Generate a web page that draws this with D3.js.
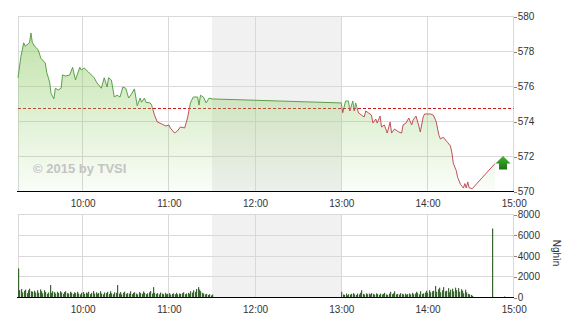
<html>
<head>
<meta charset="utf-8">
<script src="https://d3js.org/d3.v7.min.js"></script>
<style>
body { margin: 0; background: #fff; }
svg { display: block; font-family: 'Liberation Sans', Arial, sans-serif; }
.grid line { stroke: #d9d9d9; shape-rendering: crispEdges; }
.axis text { font-size: 10px; fill: #333; }
.axis line { stroke: #888; shape-rendering: crispEdges; }
</style>
</head>
<body>
<svg width="570" height="320"></svg>
<script>
// price (index) by time
var priceTimes = ["09:15","09:17","09:19","09:20","09:23","09:24","09:25","09:27","09:29","09:31",
  "09:34","09:35","09:37","09:38","09:40","09:41","09:43","09:45","09:46","09:48",
  "09:51","09:53","09:55","09:58","09:59","10:01","10:04","10:08","10:10","10:13",
  "10:15","10:17","10:18","10:20","10:22","10:24","10:26","10:28","10:30","10:32",
  "10:34","10:36","10:38","10:40","10:41","10:43","10:44","10:47","10:48","10:50",
  "10:52","10:55","10:58","11:00","11:01","11:04","11:06","11:08","11:11","11:13",
  "11:15","11:17","11:20","11:21","11:22","11:24","11:26","11:28","11:30",
  "13:00","13:01","13:03","13:05","13:06","13:08","13:09","13:10","13:12","13:14",
  "13:16","13:17","13:19","13:21","13:22","13:24","13:25","13:27","13:28","13:30",
  "13:32","13:34","13:35","13:37","13:40","13:42","13:43","13:45","13:47","13:49",
  "13:50","13:52","13:54","13:55","13:57","13:58","14:02","14:04","14:05","14:06",
  "14:08","14:09","14:11","14:12","14:14","14:16","14:17","14:18","14:20","14:21",
  "14:23","14:24","14:25","14:26","14:27","14:28","14:29","14:30","14:31","14:47"];
var priceValues = [576.5,577.7,578.5,578.3,578.5,579.06,578.5,578.26,578.1,577.6,
  577.34,576.8,576.26,575.6,575.3,575.9,575.8,575.9,576.66,576.6,
  576.66,577.1,576.37,577.1,576.94,577.06,576.83,576.5,576.2,575.9,
  576.5,575.97,576.5,576.37,575.4,575.5,575.4,575.97,575.9,575.34,
  575.57,575.86,574.9,575.34,575.1,575.34,575.1,575.06,574.94,574.37,
  573.97,573.86,573.74,573.8,573.63,573.34,573.46,573.69,573.63,574.2,
  575.06,575.4,575.4,574.94,575.5,575.4,575.06,575.34,575.29,
  575.06,574.5,575.17,575.17,574.6,575.17,574.6,575.06,574.49,574.37,
  574.26,574.6,574.49,574.37,573.91,574.14,573.91,574.31,573.69,573.8,
  573.34,573.97,573.34,573.57,573.4,573.34,573.8,573.91,574.2,573.8,
  574.09,574.31,573.74,573.4,574.26,574.43,574.43,574.37,574.2,574.0,
  573.2,573.0,573.1,573.0,572.8,572.6,572.2,571.6,571.2,570.8,
  570.4,570.3,570.2,570.45,570.2,570.55,570.2,570.2,570.15,571.6];
var refPrice = 574.8;

// volume per minute (thousand shares)
var volMorningStart = "09:15";
var volMorning = [2800,700,820,500,650,760,420,700,850,600,
  560,650,480,700,450,780,600,400,700,520,
  360,480,1200,450,600,520,380,550,430,600,
  480,350,520,600,420,380,560,450,330,500,
  420,550,380,300,460,520,350,480,400,560,
  320,450,620,380,500,350,440,600,380,300,
  480,420,550,350,600,400,320,500,450,1200,
  380,520,300,450,560,350,420,380,600,320,
  450,500,380,300,520,420,360,580,450,320,
  400,500,620,380,1000,450,350,420,300,480,
  380,320,450,300,360,420,280,350,400,320,
  450,300,380,350,420,500,320,380,450,350,
  600,480,700,550,820,1000,760,600,450,380,
  300,350,250,320,200,280];
var volAfternoonStart = "13:00";
var volAfternoon = [550,300,250,380,200,320,280,350,420,300,
  250,380,300,450,700,350,280,400,320,380,
  300,420,350,280,400,330,260,380,300,350,
  450,300,250,380,550,320,400,600,300,350,
  280,420,350,300,380,260,330,400,300,450,
  320,380,550,420,300,600,350,400,480,650,
  450,700,500,600,650,1100,550,800,950,500,
  700,1000,600,650,900,500,750,850,600,950,
  700,900,550,800,650,400,750,500,350,300,
  250,150];
var atcTimes = ["14:45","14:53"];
var atcVolumes = [6650,100];

var hourTicks = ["10:00","11:00","12:00","13:00","14:00","15:00"];
var priceTicks = [570,572,574,576,578,580];
var volTicks = [0,2000,4000,6000,8000];
var lunch = ["11:30","13:00"];

var parse = d3.timeParse("%H:%M");
var svg = d3.select("svg");

var x = d3.scaleTime().domain([parse("09:15"), parse("15:00")]).range([18, 513.7]);
var y = d3.scaleLinear().domain([570, 580]).range([191.5, 16.5]);
var yv = d3.scaleLinear().domain([0, 8000]).range([297.5, 214.5]);

var price = priceTimes.map(function(t, i) { return { t: parse(t), v: priceValues[i] }; });

var vols = [];
volMorning.forEach(function(v, i) { vols.push({ t: d3.timeMinute.offset(parse(volMorningStart), i), v: v }); });
volAfternoon.forEach(function(v, i) { vols.push({ t: d3.timeMinute.offset(parse(volAfternoonStart), i), v: v }); });
atcTimes.forEach(function(t, i) { vols.push({ t: parse(t), v: atcVolumes[i] }); });

var defs = svg.append("defs");
var grad = defs.append("linearGradient").attr("id", "fillg")
  .attr("gradientUnits", "userSpaceOnUse").attr("x1", 0).attr("y1", y(580)).attr("x2", 0).attr("y2", y(570));
grad.append("stop").attr("offset", 0).attr("stop-color", "#8fcc66").attr("stop-opacity", 0.6);
grad.append("stop").attr("offset", 1).attr("stop-color", "#8fcc66").attr("stop-opacity", 0.04);

var arrowG = defs.append("linearGradient").attr("id", "arrowg").attr("x1", 0).attr("y1", 0).attr("x2", 0).attr("y2", 1);
arrowG.append("stop").attr("offset", 0).attr("stop-color", "#44b42c");
arrowG.append("stop").attr("offset", 1).attr("stop-color", "#1c7410");

defs.append("clipPath").attr("id", "above").append("rect")
  .attr("x", 0).attr("y", 0).attr("width", 570).attr("height", y(refPrice));
defs.append("clipPath").attr("id", "below").append("rect")
  .attr("x", 0).attr("y", y(refPrice)).attr("width", 570).attr("height", 320);

// lunch break shade
[[y(580), y(570)], [yv(8000), yv(0)]].forEach(function(r) {
  svg.append("rect").attr("x", x(parse(lunch[0]))).attr("y", r[0])
    .attr("width", x(parse(lunch[1])) - x(parse(lunch[0]))).attr("height", r[1] - r[0])
    .attr("fill", "#f1f1f1");
});

// grids
function grid(yScale, ticks, top, bottom) {
  var g = svg.append("g").attr("class", "grid");
  g.selectAll("line.h").data(ticks).enter().append("line").attr("class", "h")
    .attr("x1", x.range()[0]).attr("x2", x.range()[1])
    .attr("y1", function(d) { return yScale(d); }).attr("y2", function(d) { return yScale(d); });
  g.selectAll("line.v").data(["09:15"].concat(hourTicks)).enter().append("line").attr("class", "v")
    .attr("x1", function(d) { return x(parse(d)); }).attr("x2", function(d) { return x(parse(d)); })
    .attr("y1", top).attr("y2", bottom);
}
grid(y, priceTicks, y(580), y(570));
grid(yv, volTicks, yv(8000), yv(0));

// reference line
svg.append("line").attr("x1", x.range()[0]).attr("x2", x.range()[1])
  .attr("y1", Math.round(y(refPrice)) + 0.5).attr("y2", Math.round(y(refPrice)) + 0.5)
  .attr("stroke", "#c41a1a").attr("stroke-dasharray", "3,2").attr("stroke-width", 1);

// area + line
var area = d3.area().x(function(d) { return x(d.t); }).y0(y(570)).y1(function(d) { return y(d.v); });
var line = d3.line().x(function(d) { return x(d.t); }).y(function(d) { return y(d.v); });

svg.append("path").datum(price).attr("d", area).attr("fill", "url(#fillg)");

svg.append("text").attr("x", 33).attr("y", 173).text("\u00a9 2015 by TVSI")
  .attr("font-size", "13px").attr("font-weight", "bold").attr("fill", "#c4c4c4");

svg.append("path").datum(price).attr("d", line).attr("fill", "none")
  .attr("stroke", "#5c9e4c").attr("stroke-width", 1).attr("clip-path", "url(#above)");
svg.append("path").datum(price).attr("d", line).attr("fill", "none")
  .attr("stroke", "#c0505c").attr("stroke-width", 1).attr("clip-path", "url(#below)");

// arrow
var last = price[price.length - 1];
var ax = x(last.t) + 8, ay = y(last.v);
svg.append("path")
  .attr("d", "M" + (ax - 7.5) + "," + (ay) + "L" + ax + "," + (ay - 7.5) + "L" + (ax + 7.5) + "," + (ay) +
    "L" + (ax + 4) + "," + (ay) + "L" + (ax + 4) + "," + (ay + 6) + "L" + (ax - 4) + "," + (ay + 6) +
    "L" + (ax - 4) + "," + (ay) + "Z")
  .attr("fill", "url(#arrowg)");

// volume bars
svg.append("g").selectAll("rect").data(vols).enter().append("rect")
  .attr("x", function(d) { return Math.round(x(d.t)); })
  .attr("y", function(d) { return yv(d.v); })
  .attr("width", 1.2)
  .attr("height", function(d) { return yv(0) - yv(d.v); })
  .attr("fill", "#3a6431");

// axis base lines
[y(570), yv(0)].forEach(function(b) {
  svg.append("line").attr("x1", 17).attr("x2", x.range()[1]).attr("y1", b).attr("y2", b)
    .attr("stroke", "#000").attr("shape-rendering", "crispEdges");
});

// axes
var xAxis = d3.axisBottom(x).tickValues(hourTicks.map(parse)).tickFormat(d3.timeFormat("%H:%M")).tickSize(0).tickPadding(8);
svg.append("g").attr("class", "axis").attr("transform", "translate(0," + y(570) + ")").call(xAxis).call(function(g) { g.select(".domain").remove(); });
svg.append("g").attr("class", "axis").attr("transform", "translate(0," + yv(0) + ")").call(xAxis).call(function(g) { g.select(".domain").remove(); });

var yAxis = d3.axisRight(y).tickValues(priceTicks).tickFormat(d3.format("d")).tickSize(3).tickPadding(1);
svg.append("g").attr("class", "axis").attr("transform", "translate(" + x.range()[1] + ",0)").call(yAxis).call(function(g) { g.select(".domain").remove(); });
var vAxis = d3.axisRight(yv).tickValues(volTicks).tickFormat(d3.format("d")).tickSize(3).tickPadding(1);
svg.append("g").attr("class", "axis").attr("transform", "translate(" + x.range()[1] + ",0)").call(vAxis).call(function(g) { g.select(".domain").remove(); });

svg.append("text").attr("transform", "translate(553,253) rotate(90)").attr("text-anchor", "middle")
  .attr("font-size", "10px").attr("fill", "#333").text("Nghìn");
</script>
</body>
</html>
